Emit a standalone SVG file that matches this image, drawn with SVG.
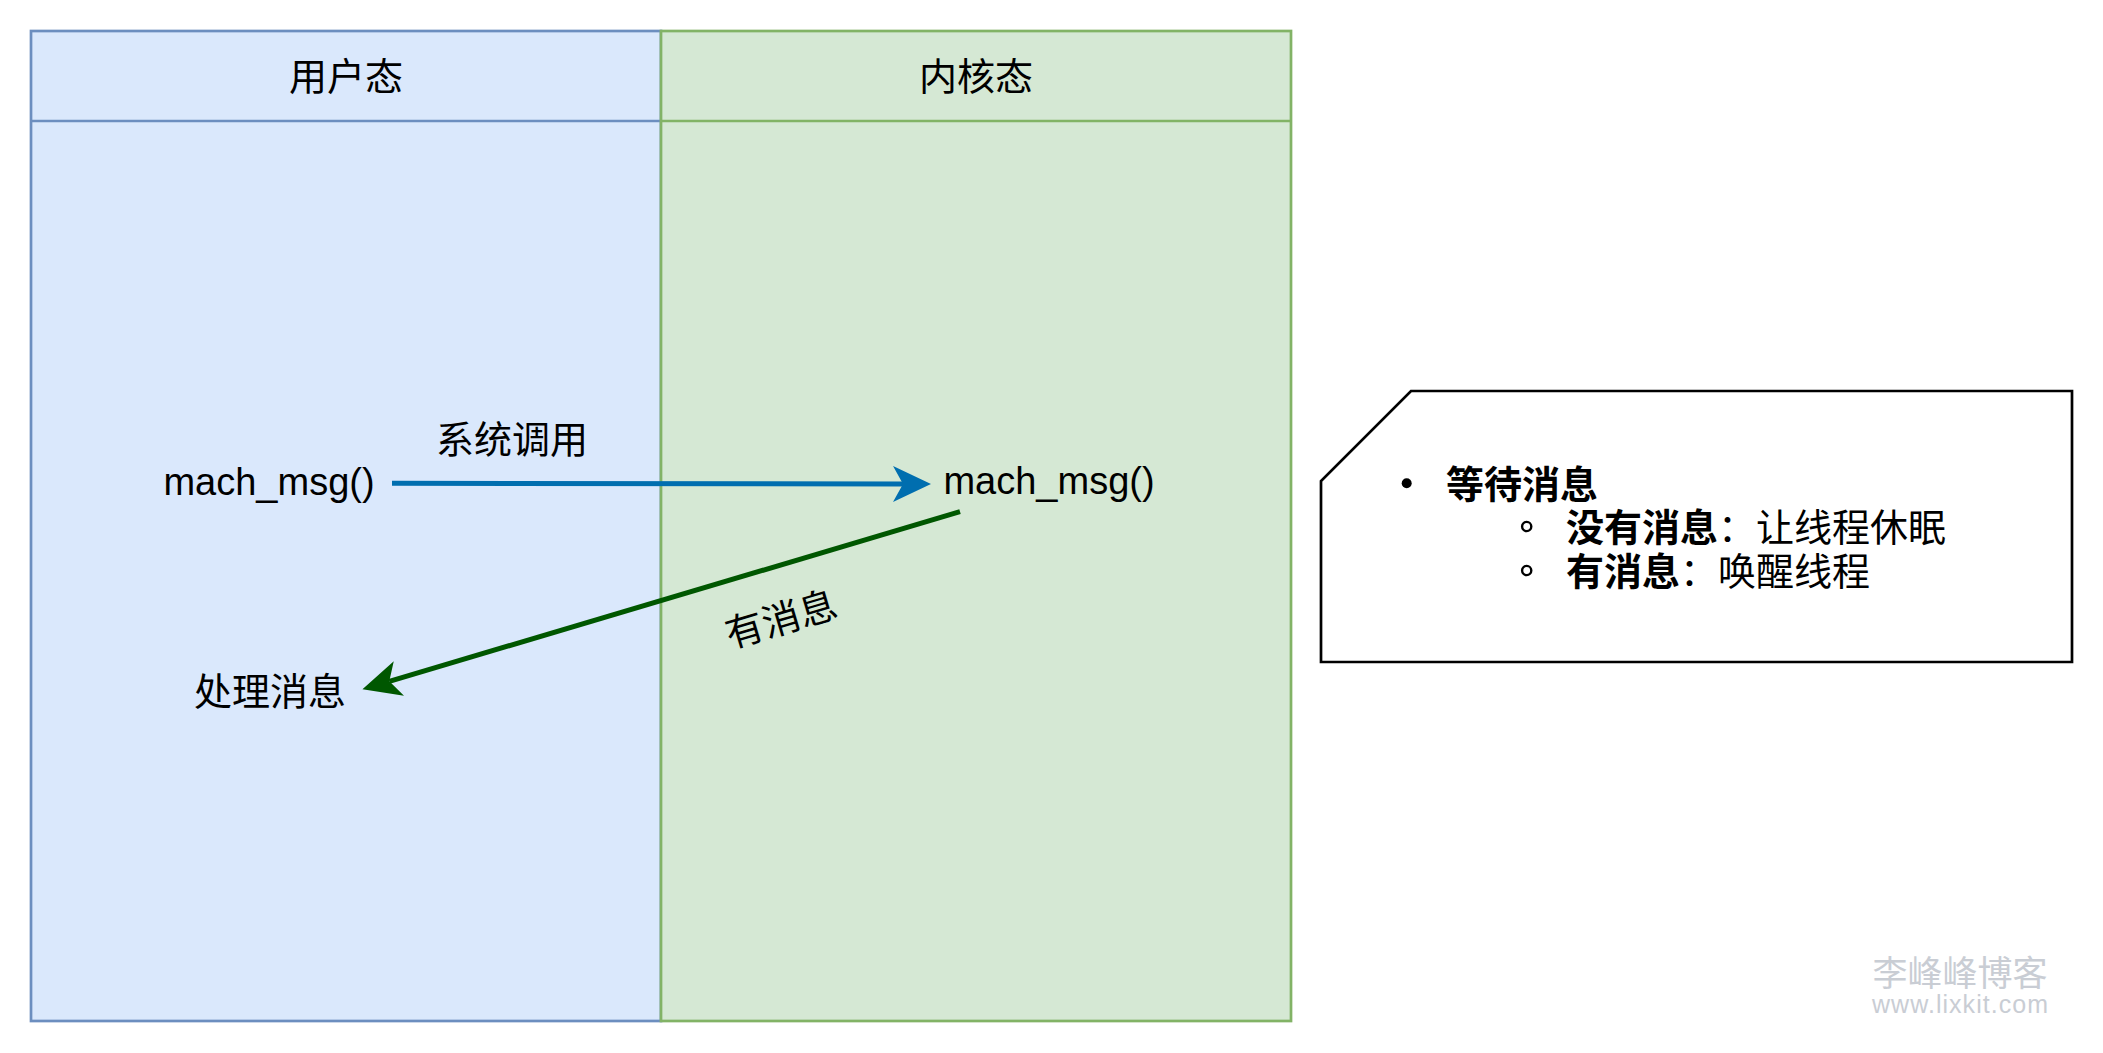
<svg xmlns="http://www.w3.org/2000/svg" width="2103" height="1053" viewBox="0 0 2103 1053">
  <style>
    text { font-family: "Liberation Sans", "Noto Sans CJK SC", sans-serif; font-size: 38px; fill: #000; }
    .mid { text-anchor: middle; }
    .b { font-weight: bold; }
    .laneU { fill: #dae8fc; stroke: #6c8ebf; stroke-width: 2.7; }
    .laneK { fill: #d5e8d4; stroke: #82b366; stroke-width: 2.7; }
    .hdrU { stroke: #6c8ebf; stroke-width: 2.7; }
    .hdrK { stroke: #82b366; stroke-width: 2.7; }
    .wm { fill: #c9cdd4; }
    .sub { fill: none; stroke: #000; stroke-width: 2.4; }
  </style>
  <defs>
    <marker id="arrBlue" markerUnits="userSpaceOnUse" markerWidth="40" markerHeight="38" refX="10" refY="18" orient="auto" viewBox="0 0 40 38">
      <path d="M0,0 L38,18 L0,36 L10,18 Z" fill="#006eaf"/>
    </marker>
    <marker id="arrGreen" markerUnits="userSpaceOnUse" markerWidth="40" markerHeight="38" refX="10" refY="18" orient="auto" viewBox="0 0 40 38">
      <path d="M0,0 L38,18 L0,36 L10,18 Z" fill="#005700"/>
    </marker>
  </defs>

  <g id="lane-user">
    <rect class="laneU" x="31" y="31" width="630" height="990"/>
    <line class="hdrU" x1="31" y1="121" x2="661" y2="121"/>
    <text class="mid" x="346" y="90">用户态</text>
  </g>

  <g id="lane-kernel">
    <rect class="laneK" x="661" y="31" width="630" height="990"/>
    <line class="hdrK" x1="661" y1="121" x2="1291" y2="121"/>
    <text class="mid" x="976" y="90">内核态</text>
  </g>

  <g id="node-user-mach-msg">
    <text class="mid" x="269" y="495">mach_msg()</text>
  </g>

  <g id="node-kernel-mach-msg">
    <text class="mid" x="1049" y="494">mach_msg()</text>
  </g>

  <g id="node-handle">
    <text class="mid" x="270" y="705">处理消息</text>
  </g>

  <g id="connectors">
    <line x1="392" y1="483.3" x2="903" y2="484" stroke="#006eaf" stroke-width="5" marker-end="url(#arrBlue)"/>
    <line x1="960" y1="511.7" x2="389.3" y2="681.3" stroke="#005700" stroke-width="5" marker-end="url(#arrGreen)"/>
    <text class="mid" x="512" y="453">系统调用</text>
    <text class="mid" transform="translate(781,619) rotate(-16.5)" x="0" y="14">有消息</text>
  </g>

  <g id="note">
    <polygon points="1411,391 2072,391 2072,662 1321,662 1321,481" fill="#fff" stroke="#000" stroke-width="2.7"/>
    <circle cx="1406.7" cy="483.3" r="5" fill="#000"/>
    <text class="b" x="1446" y="497.5">等待消息</text>
    <circle class="sub" cx="1526.7" cy="526.5" r="4.6"/>
    <text x="1566" y="541"><tspan class="b">没有消息</tspan>：让线程休眠</text>
    <circle class="sub" cx="1526.7" cy="570.5" r="4.6"/>
    <text x="1566" y="584.5"><tspan class="b">有消息</tspan>：唤醒线程</text>
  </g>

  <g id="watermark">
    <text class="mid wm" x="1960" y="986" style="font-size:35px">李峰峰博客</text>
    <text class="wm" x="1872" y="1013" style="font-size:25px" textLength="176" lengthAdjust="spacing">www.lixkit.com</text>
  </g>
</svg>
